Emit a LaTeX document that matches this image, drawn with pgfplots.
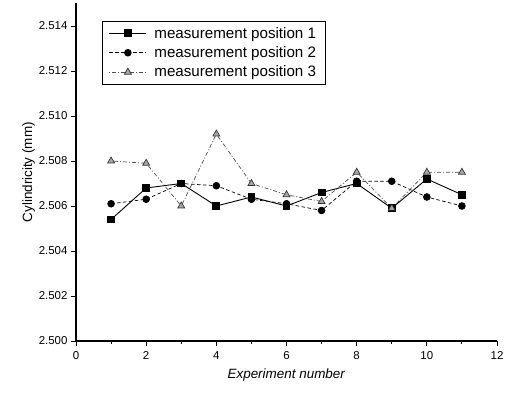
\documentclass[border=0pt]{standalone}
\usepackage{fontspec}
\setmainfont{Liberation Sans}
\usepackage{pgfplots}
\pgfplotsset{compat=1.18}
\begin{document}
\begin{tikzpicture}
\useasboundingbox (-76bp,-55bp) rectangle (430bp,341bp);
\begin{axis}[
  at={(0,0)}, anchor=south west,
  scale only axis, width=421bp, height=337.5bp,
  xmin=0, xmax=12, ymin=2.500, ymax=2.515,
  axis lines*=left,
  axis line style={line width=1.1pt},
  tick align=outside,
  tick style={black, line width=0.9pt},
  major tick length=5bp, minor tick length=3bp,
  xtick={0,2,...,12}, minor x tick num=1,
  ytick={2.500,2.502,...,2.5145}, minor y tick num=1,
  yticklabel style={/pgf/number format/.cd, fixed, fixed zerofill, precision=3},
  xticklabel style={yshift=-2bp},
  /pgf/number format/assume math mode=true,
  ticklabel style={font=\fontsize{11.5}{13}\selectfont},
  xlabel={\textit{Experiment number}},
  ylabel={Cylindricity (mm)},
  label style={font=\fontsize{13.5}{15}\selectfont},
  xlabel style={yshift=-2bp},
  ylabel style={yshift=-3bp},
  legend cell align=left,
  legend style={at={(0.061,0.949)}, anchor=north west, draw=black, line width=0.7pt,
    font=\fontsize{15.2}{17}\selectfont, row sep=3bp, inner xsep=7bp, inner ysep=4bp,
    nodes={inner xsep=2bp}},
  legend image code/.code={
    \draw[#1, mark repeat=2, mark phase=2] plot coordinates {(0cm,0cm) (0.65cm,0cm) (1.3cm,0cm)};
    \path (1.5cm,0cm);
  },
]
\addplot[black, solid, line width=0.9pt, mark=square*, mark size=3.4bp, mark options={solid}]
  coordinates {(1,2.5054) (2,2.5068) (3,2.5070) (4,2.5060) (5,2.5064) (6,2.5060) (7,2.5066) (8,2.5070) (9,2.5059) (10,2.5072) (11,2.5065)};
\addlegendentry{measurement position 1}
\addplot[black, dash pattern=on 3.5pt off 2.5pt, line width=0.7pt, mark=*, mark size=3.4bp, mark options={solid}]
  coordinates {(1,2.5061) (2,2.5063) (3,2.5070) (4,2.5069) (5,2.5063) (6,2.5061) (7,2.5058) (8,2.5071) (9,2.5071) (10,2.5064) (11,2.5060)};
\addlegendentry{measurement position 2}
\addplot[black!70, dash pattern=on 1pt off 2pt on 4pt off 2pt, line width=0.7pt, mark=triangle*, mark size=4bp, mark options={solid, fill=black!35, draw=black!80}]
  coordinates {(1,2.5080) (2,2.5079) (3,2.5060) (4,2.5092) (5,2.5070) (6,2.5065) (7,2.5062) (8,2.5075) (9,2.5059) (10,2.5075) (11,2.5075)};
\addlegendentry{measurement position 3}
\end{axis}
\end{tikzpicture}
\end{document}
